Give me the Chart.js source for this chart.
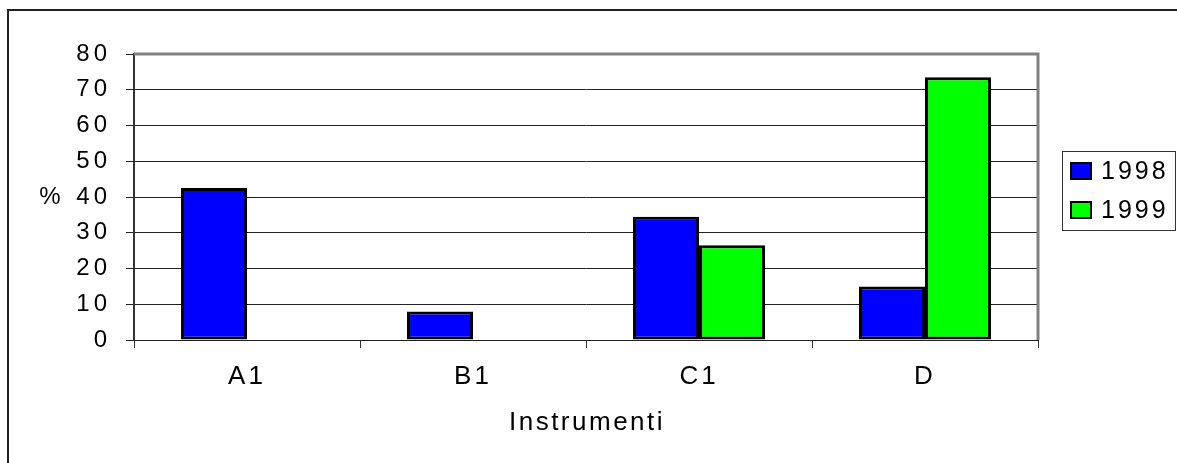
<!DOCTYPE html>
<html>
<head>
<meta charset="utf-8">
<script src="https://cdn.jsdelivr.net/npm/chart.js@4.4.1/dist/chart.umd.min.js"></script>
<style>
  html, body { margin: 0; padding: 0; background: #fff; }
</style>
</head>
<body>
<canvas id="instrChart" width="1177" height="463"></canvas>
<script>
// categories and values
const categories = ['A1', 'B1', 'C1', 'D'];
const values1998 = [42.5, 8, 34.5, 15];
const values1999 = [0, 0, 26.5, 73.5];
const seriesLabels = ['1998', '1999'];
const seriesColors = ['#0000ff', '#00ff00'];
const yMin = 0, yMax = 80, yStep = 10;
const yTitle = '%';
const xTitle = 'Instrumenti';

const FONT = "'Liberation Sans', Arial, sans-serif";

// wraps a scale's label drawing so the text gets letter spacing
function spaceLabels(scale, spacing) {
  if (scale._spaced) return;
  const orig = scale.drawLabels.bind(scale);
  scale.drawLabels = function(area) {
    const ctx = this.ctx;
    ctx.save();
    ctx.letterSpacing = spacing;
    orig(area);
    ctx.restore();
  };
  scale._spaced = true;
}

const decorPlugin = {
  id: 'decor',
  afterLayout(chart) {
    spaceLabels(chart.scales.x, '3px');
    spaceLabels(chart.scales.y, '4px');
  },
  beforeDraw(chart) {
    const ctx = chart.ctx;
    ctx.save();
    // outer frame, right/bottom run off the picture
    ctx.strokeStyle = '#222';
    ctx.lineWidth = 2;
    ctx.strokeRect(8, 10, 1200, 500);
    ctx.restore();
  },
  afterDatasetsDraw(chart) {
    const ctx = chart.ctx;
    const a = chart.chartArea;
    ctx.save();
    // gray plot border top and right
    ctx.strokeStyle = '#808080';
    ctx.lineWidth = 3;
    ctx.beginPath();
    ctx.moveTo(a.left, a.top);
    ctx.lineTo(a.right, a.top);
    ctx.lineTo(a.right, a.bottom);
    ctx.stroke();
    ctx.restore();
  },
  afterDraw(chart) {
    const ctx = chart.ctx;
    const a = chart.chartArea;
    ctx.save();
    ctx.fillStyle = '#000';
    ctx.textBaseline = 'middle';

    // y title, horizontal, beside the 40 tick
    ctx.letterSpacing = '0px';
    ctx.font = '24px ' + FONT;
    ctx.textAlign = 'center';
    ctx.fillText(yTitle, 50, chart.scales.y.getPixelForValue(40));

    // x title
    ctx.letterSpacing = '2.5px';
    ctx.font = '26px ' + FONT;
    ctx.fillText(xTitle, (a.left + a.right) / 2 + 1, 423);

    // legend box
    ctx.strokeStyle = '#333';
    ctx.lineWidth = 1;
    ctx.strokeRect(1062.5, 151.5, 113, 79);
    ctx.textAlign = 'left';
    ctx.letterSpacing = '3px';
    ctx.font = '25px ' + FONT;
    chart.data.datasets.forEach((ds, i) => {
      const y = 163 + i * 39;
      ctx.fillStyle = ds.backgroundColor;
      ctx.fillRect(1071, y, 20, 16);
      ctx.strokeStyle = '#000';
      ctx.lineWidth = 2;
      ctx.strokeRect(1071, y, 20, 16);
      ctx.fillStyle = '#000';
      ctx.fillText(ds.label, 1101, y + 9);
    });
    ctx.restore();
  }
};

const ctx = document.getElementById('instrChart').getContext('2d');
new Chart(ctx, {
  type: 'bar',
  data: {
    labels: categories,
    datasets: [
      { label: seriesLabels[0], data: values1998, backgroundColor: seriesColors[0] },
      { label: seriesLabels[1], data: values1999, backgroundColor: seriesColors[1] }
    ]
  },
  options: {
    responsive: false,
    animation: false,
    devicePixelRatio: 1,
    layout: { padding: { left: 0, right: 139, top: 54, bottom: 0 } },
    datasets: {
      bar: {
        categoryPercentage: 0.584,
        barPercentage: 1,
        borderColor: '#000',
        borderWidth: 3,
        borderSkipped: false
      }
    },
    scales: {
      x: {
        grid: { drawOnChartArea: false, tickLength: 8, color: '#333', offset: true },
        border: { color: '#222', width: 1 },
        ticks: { color: '#000', font: { family: FONT, size: 26 }, padding: 13 },
        afterFit: s => { s.height = 123; }
      },
      y: {
        min: yMin,
        max: yMax,
        ticks: { stepSize: yStep, color: '#000', font: { family: FONT, size: 24 }, padding: 15 },
        grid: { color: '#222', lineWidth: 1, tickLength: 8 },
        border: { color: '#333', width: 2 },
        afterFit: s => { s.width = 134; }
      }
    },
    plugins: {
      legend: { display: false },
      tooltip: { enabled: false }
    }
  },
  plugins: [decorPlugin]
});
</script>
</body>
</html>
